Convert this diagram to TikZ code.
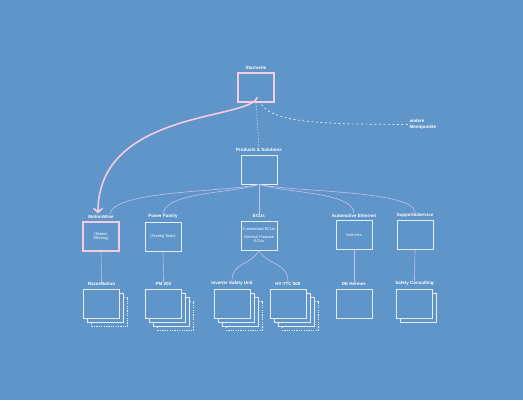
\documentclass[tikz,border=0pt]{standalone}
\usepackage{fontspec}
\setmainfont{Liberation Sans}
\usepackage{xcolor}
\usetikzlibrary{positioning, arrows.meta, calc}

\definecolor{bgblue}{HTML}{5F95C8}
\definecolor{boxline}{HTML}{E4EEF9}
\definecolor{pinkline}{HTML}{F5CCDF}
\definecolor{lilac}{HTML}{BFC3F2}

\begin{document}
\begin{tikzpicture}[
    x=1pt, y=-1pt,
    every node/.style={align=center, text=white},
    card/.style={rectangle, draw=boxline, fill=bgblue, line width=0.7pt,
        minimum width=36pt, minimum height=29pt, inner sep=0pt,
        font=\fontsize{3.9}{4.8}\selectfont},
    backcard/.style={card, dashed, dash pattern=on 1.2pt off 1.2pt},
    title/.style={font=\bfseries\fontsize{4.5}{5.5}\selectfont, inner sep=0.6pt, above=2.2pt of #1},
    inside/.style={font=\fontsize{3.9}{4.8}\selectfont},
    branch/.style={draw=lilac, line width=0.6pt}
]
    \useasboundingbox (0,0) rectangle (523,400);
    \fill[bgblue] (0,0) rectangle (523,400);

    % top: start page and products
    \node[card, draw=pinkline, line width=1.1pt] (start) at (256,87.5) {};
    \node[title=start] (lbl-start) {Startseite};
    \node[card] (products) at (259,169.5) {};
    \node[title=products] (lbl-products) {Products \& Solutions};
    \node[font=\bfseries\fontsize{4.5}{5.5}\selectfont, align=left, anchor=west, inner sep=0.5pt] (menu) at (409,124.5) {andere\\Menüpunkte};

    % second row
    \node[card, draw=pinkline, line width=1.1pt] (motionwise) at (101,236.5) {(Motion\\Offering)};
    \node[title=motionwise] (lbl-mw) {MotionWise};
    \node[card] (power) at (163,236.5) {(Testing Tools)};
    \node[title=power] (lbl-power) {Power Family};
    \node[card] (ecus) at (259,235.5) {};
    \node[inside, text width=35pt] at (ecus) {Customized ECUs\\[2.5pt]General Purpose\\ECUs};
    \node[title=ecus] (lbl-ecus) {ECUs};
    \node[card] (autoeth) at (354,235) {Switches};
    \node[title=autoeth] (lbl-autoeth) {Automotive Ethernet};
    \node[card] (support) at (415,235) {};
    \node[title=support] (lbl-support) {Support\&Service};

    % third row (stacks, back cards first)
    \node[backcard] (razor-3) at (109.5,311.5) {};
    \node[card] (razor-2) at (105.5,307.5) {};
    \node[card] (razor) at (101.5,303.5) {};
    \node[title=razor] (lbl-razor) {RazorMotion};

    \node[backcard] (pm-4) at (175.5,315.5) {};
    \node[card] (pm-3) at (171.5,311.5) {};
    \node[card] (pm-2) at (167.5,307.5) {};
    \node[card] (pm) at (163.5,303.5) {};
    \node[title=pm] (lbl-pm) {PM 200};

    \node[backcard] (isu-4) at (244,315.5) {};
    \node[card] (isu-3) at (240,311.5) {};
    \node[card] (isu-2) at (236,307.5) {};
    \node[card] (isu) at (232,303.5) {};
    \node[title=isu] (lbl-isu) {Inverter Safety Unit};

    \node[backcard] (hy-4) at (300,315.5) {};
    \node[card] (hy-3) at (296,311.5) {};
    \node[card] (hy-2) at (292,307.5) {};
    \node[card] (hy) at (288,303.5) {};
    \node[title=hy] (lbl-hy) {HY-TTC 500};

    \node[card] (hermes) at (354,303.5) {};
    \node[title=hermes] (lbl-hermes) {DE Hermes};

    \node[card] (consult-2) at (418.5,307.5) {};
    \node[card] (consult) at (414.5,303.5) {};
    \node[title=consult] (lbl-consult) {Safety Consulting};

    % connectors
    \draw[boxline, line width=0.7pt, dash pattern=on 1pt off 2pt] (start.south) -- (lbl-products.north);
    \draw[boxline, line width=0.7pt, dash pattern=on 2pt off 2.5pt] ($(start.south east)+(-13,2)$) .. controls (275,124) and (330,124) .. (menu.west);

    \draw[branch] (products.south) .. controls (230,192) and (112,190) .. ($(lbl-mw.north)+(9,0)$);
    \draw[branch] (products.south) .. controls (235,193) and (165,192) .. (lbl-power.north);
    \draw[branch] (products.south) -- (lbl-ecus.north);
    \draw[branch] (products.south) .. controls (285,193) and (353,192) .. (lbl-autoeth.north);
    \draw[branch] (products.south) .. controls (290,192) and (413,190) .. (lbl-support.north);

    \draw[branch] (motionwise.south) -- (lbl-razor.north);
    \draw[branch] (power.south) -- (lbl-pm.north);
    \draw[branch] (ecus.south) .. controls (252,265) and (232,262) .. (lbl-isu.north);
    \draw[branch] (ecus.south) .. controls (266,265) and (288,262) .. (lbl-hy.north);
    \draw[branch] (autoeth.south) -- (lbl-hermes.north);
    \draw[branch] (support.south) -- (lbl-consult.north);

    \draw[pinkline, line width=1.6pt, line cap=round, -{Straight Barb[length=4pt, width=9pt]}]
        ($(start.south)+(1,-5)$) .. controls (250,120) and (98,110) .. ($(lbl-mw.north)+(-3,-1)$);
\end{tikzpicture}
\end{document}
